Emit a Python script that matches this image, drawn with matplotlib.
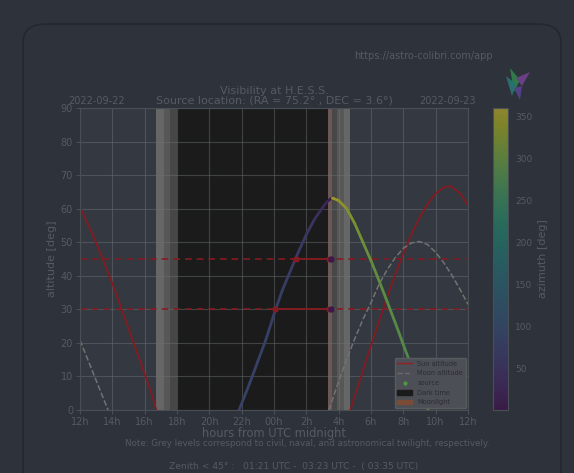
import matplotlib
matplotlib.use("Agg")
import matplotlib.pyplot as plt
import numpy as np
from matplotlib.collections import LineCollection
from matplotlib.colors import ListedColormap, Normalize
from matplotlib.lines import Line2D
from matplotlib.patches import Patch, FancyBboxPatch, Polygon

# ---- data (hours from UTC midnight, degrees) ----
sun_eve_h = [-12, -11.5, -11, -10.5, -10, -9.5, -9, -8.5, -8, -7.5, -7.28]
sun_eve_alt = [60.5, 55.3, 49.8, 43.8, 37.6, 31.0, 24.3, 17.5, 10.7, 3.8, 0]
sun_morn_h = [4.72, 5.0, 5.5, 6.0, 6.5, 7.0, 7.5, 8.0, 8.5, 9.0, 9.5, 10.0, 10.5, 10.8, 11.0, 11.5, 12.0]
sun_morn_alt = [0, 4.2, 11.8, 19.3, 26.6, 33.7, 40.4, 46.7, 52.4, 57.3, 61.4, 64.5, 66.3, 66.7, 66.5, 64.6, 61.0]

moon_eve_h = [-12, -11.5, -11, -10.5, -10.26]
moon_eve_alt = [20.8, 14.8, 8.8, 2.8, 0]
moon_morn_h = [3.39, 4.0, 4.5, 5.0, 5.5, 6.0, 6.5, 7.0, 7.5, 8.0, 8.5, 9.0, 9.5, 10.0, 10.5, 11.0, 11.5, 12.0]
moon_morn_alt = [0, 8.5, 15.2, 21.3, 27.0, 32.0, 37.5, 41.8, 45.4, 48.2, 49.8, 50.2, 49.3, 47.0, 43.9, 40.2, 36.0, 31.5]

src_h = [-2.16, -1.5, -1.0, -0.5, 0.0, 0.5, 1.0, 1.5, 2.0, 2.5, 3.0, 3.3, 3.5, 3.6,
         3.7, 4.0, 4.5, 5.0, 5.5, 6.0, 6.5, 7.0, 7.5, 8.0, 8.5, 9.0, 9.54]
src_alt = [0, 8.0, 14.5, 21.0, 28.5, 35.5, 41.3, 47.0, 52.3, 56.8, 60.3, 62.2, 62.9, 63.1,
           63.0, 62.4, 60.0, 55.5, 50.0, 44.5, 38.5, 32.3, 26.0, 19.5, 13.0, 6.5, 0]
src_az = [86, 85, 84, 82, 80, 77, 73, 68, 62, 52, 36, 22, 10, 2,
          356, 346, 332, 320, 310, 302, 296, 291, 287, 284, 281, 279, 277]

# night phases (start, end) in hours
civil = [(-7.28, -6.81), (4.31, 4.72)]
nautical = [(-6.81, -6.45), (3.9, 4.31)]
astro = [(-6.45, -5.97), (3.58, 3.9)]
dark = (-5.97, 3.36)
moonlight = (3.36, 3.58)

# observability windows: (threshold, start, end)
windows = [(45, 1.34, 3.38), (30, 0.06, 3.38)]

tick_hours = list(range(-12, 13, 2))
tick_labels = ['12h', '14h', '16h', '18h', '20h', '22h', '00h', '2h', '4h', '6h', '8h', '10h', '12h']

# ---- colours ----
bg = '#2e323a'
axbg = '#343840'
txt = '#565a61'
red = '#841b21'

base = plt.get_cmap('viridis')(np.linspace(0, 1, 256))
bgrgb = np.array([46, 50, 58, 255]) / 255
cmap = ListedColormap(base * 0.46 + bgrgb * 0.54)
cmap_line = ListedColormap(base * 0.55 + bgrgb * 0.45)
norm = Normalize(0, 360)

W, H = 574, 473
fig = plt.figure(figsize=(W / 100, H / 100), dpi=100, facecolor=bg)

# card outline
card = FancyBboxPatch((23 / W, -0.2), 538 / W, (H - 24) / H + 0.2,
                      boxstyle="round,pad=0,rounding_size=0.04",
                      transform=fig.transFigure, facecolor=bg,
                      edgecolor='#24272d', linewidth=1.2, zorder=-5)
fig.patches.append(card)

ax = fig.add_axes([80 / W, (H - 410) / H, 388 / W, 302 / H])
ax.set_facecolor(axbg)
ax.set_xlim(-12, 12)
ax.set_ylim(0, 90)

for a, b in civil:
    ax.axvspan(a, b, color='#666666', lw=0)
for a, b in nautical:
    ax.axvspan(a, b, color='#575757', lw=0)
for a, b in astro:
    ax.axvspan(a, b, color='#474747', lw=0)
ax.axvspan(*dark, color='#1b1b1b', lw=0)
ax.axvspan(*moonlight, color='#6a5756', lw=0)

ax.grid(True, color='#6e7278', alpha=0.45, lw=0.8)

ax.plot(sun_eve_h, sun_eve_alt, color=red, lw=1.3)
ax.plot(sun_morn_h, sun_morn_alt, color=red, lw=1.3)
ax.plot(moon_eve_h, moon_eve_alt, color='#727272', lw=1.1, ls='--')
ax.plot(moon_morn_h, moon_morn_alt, color='#727272', lw=1.1, ls='--')

pts = np.column_stack([src_h, src_alt])
segs = np.stack([pts[:-1], pts[1:]], axis=1)
az_seg = [(src_az[i] + src_az[i + 1]) / 2 if abs(src_az[i] - src_az[i + 1]) < 180 else src_az[i + 1]
          for i in range(len(src_az) - 1)]
lc = LineCollection(segs, cmap=cmap_line, norm=norm, linewidths=2.0, capstyle='round', zorder=3)
lc.set_array(np.array(az_seg))
ax.add_collection(lc)

for thr, t0, t1 in windows:
    ax.axhline(thr, color=red, lw=1.2, ls='--', dashes=(4, 3))
    ax.plot([t0, t1], [thr, thr], color=red, lw=1.3, marker='s', ms=3.5, zorder=4)
    ax.plot([t1 + 0.12], [thr], 'o', color=cmap_line(norm(5)), ms=3.5, zorder=4)

ax.set_xticks(tick_hours)
ax.set_xticklabels(tick_labels)
ax.set_yticks(range(0, 91, 10))
ax.tick_params(colors=txt, labelsize=7, length=3, color='#4a4e55', pad=2)
for s in ax.spines.values():
    s.set_color('#4a4e55')
ax.set_xlabel('hours from UTC midnight', color=txt, fontsize=8.3, labelpad=0)
ax.set_ylabel('altitude [deg]', color=txt, fontsize=8, labelpad=3)
ax.set_title('Visibility at H.E.S.S.\nSource location: (RA = 75.2° , DEC = 3.6°)',
             color=txt, fontsize=8, pad=3, linespacing=1.0)
ax.text(-0.03, 1.005, '2022-09-22', transform=ax.transAxes, color=txt, fontsize=7, ha='left', va='bottom')
ax.text(1.02, 1.005, '2022-09-23', transform=ax.transAxes, color=txt, fontsize=7, ha='right', va='bottom')

handles = [Line2D([], [], color='#9a1e24', lw=1),
           Line2D([], [], color='#6a6a6a', lw=1, ls='--'),
           Line2D([], [], color='#4e9a3c', marker='o', ms=2, ls='none'),
           Patch(facecolor='#1b1b1b', edgecolor='#1b1b1b'),
           Patch(facecolor='#7a4c36', edgecolor='#7a4c36')]
leg = ax.legend(handles, ['Sun altitude', 'Moon altitude', 'source', 'Dark time', 'Moonlight'],
                loc='lower right', fontsize=4.8, facecolor='#4c4f55', edgecolor='#585b60',
                framealpha=1, borderaxespad=0.3, handlelength=2.2, labelspacing=0.55)
for t in leg.get_texts():
    t.set_color('#2a2c30')

cax = fig.add_axes([493 / W, (H - 410) / H, 15 / W, 302 / H])
cb = fig.colorbar(plt.cm.ScalarMappable(norm=norm, cmap=cmap), cax=cax, ticks=range(50, 351, 50))
cb.outline.set_edgecolor('#4a4e55')
cax.tick_params(colors=txt, labelsize=6.5, length=0, pad=5)
cb.set_label('azimuth [deg]', color=txt, fontsize=8, labelpad=4)

fig.text(493 / W, 1 - 56 / H, 'https://astro-colibri.com/app', color=txt, fontsize=7, ha='right', va='center')
fig.text(307 / W, 1 - 443 / H,
         'Note: Grey levels correspond to civil, naval, and astronomical twilight, respectively.',
         color=txt, fontsize=6.3, ha='center', va='center')
fig.text(294 / W, 1 - 466 / H, 'Zenith < 45° :   01:21 UTC -  03:23 UTC -  ( 03:35 UTC)',
         color=txt, fontsize=6.6, ha='center', va='center')

# small bird logo
logo = [([(510, 68), (520, 80), (514, 92)], '#2f7a4a'),
        ([(506, 76), (516, 84), (512, 96)], '#2a6f70'),
        ([(516, 78), (530, 72), (522, 86)], '#6a3f84'),
        ([(514, 88), (522, 86), (520, 100)], '#54408a')]
for xy, c in logo:
    fig.patches.append(Polygon([(x / W, 1 - y / H) for x, y in xy], closed=True,
                               transform=fig.transFigure, facecolor=c, edgecolor='none'))

fig.savefig('out.png', dpi=100, facecolor=bg)
